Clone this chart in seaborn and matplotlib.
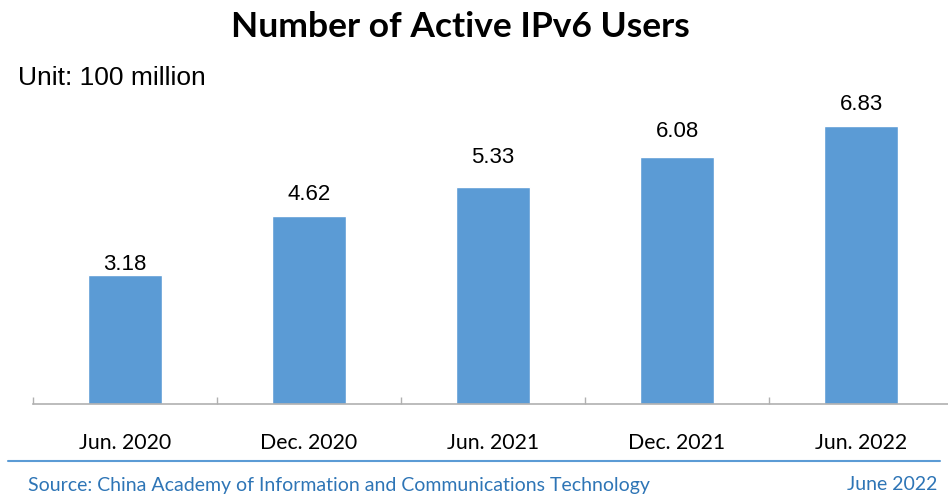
import matplotlib
matplotlib.use("Agg")
import matplotlib.pyplot as plt
from matplotlib.lines import Line2D
import pandas as pd
import seaborn as sns

periods = ["Jun. 2020", "Dec. 2020", "Jun. 2021", "Dec. 2021", "Jun. 2022"]
users = [3.18, 4.62, 5.33, 6.08, 6.83]

title = "Number of Active IPv6 Users"
unit_text = "Unit: 100 million"
source_text = "Source: China Academy of Information and Communications Technology"
date_text = "June 2022"

bar_color = "#5B9BD5"
source_color = "#2E75B6"
# gap in pixels between bar top and label baseline (labels were hand placed)
label_gap = [5, 16, 24, 20, 16]

sns.set_theme(style="white")
plt.rcParams["font.family"] = ["Liberation Sans", "DejaVu Sans"]
plt.rcParams["text.color"] = "black"

df = pd.DataFrame({"period": periods, "users": users})

W, H = 948, 497
fig = plt.figure(figsize=(W / 100, H / 100), dpi=100)
# axes in pixel units: baseline y=404, left x=33, category width 184
ax = fig.add_axes([33 / W, (H - 404) / H, 920 / W, (404 - 90) / H])

sns.barplot(data=df, x="period", y="users", color=bar_color, saturation=1,
            width=0.4, ax=ax)

ax.set_xlim(-0.5, 4.5)
ax.set_ylim(0, (404 - 90) / 40.65)
ax.set_xlabel("")
ax.set_ylabel("")
ax.set_yticks([])

for sp in ["top", "right", "left"]:
    ax.spines[sp].set_visible(False)
ax.spines["bottom"].set_color("#b0b0b0")
ax.spines["bottom"].set_linewidth(1.2)

ax.set_xticks(range(len(periods)))
ax.set_xticklabels(periods, family=["Lato", "DejaVu Sans"], fontsize=15.3)
ax.tick_params(axis="x", which="major", length=0, pad=21, colors="black")
ax.set_xticks([i - 0.5 for i in range(len(periods) + 1)], minor=True)
ax.tick_params(axis="x", which="minor", direction="in", length=5,
               width=1, color="#b0b0b0", bottom=True)

for i, v in enumerate(users):
    ax.annotate(f"{v:.2f}", (i, v), xytext=(0, label_gap[i] * 0.72),
                textcoords="offset points", ha="center", va="baseline",
                fontsize=16, color="black")

fig.text(460 / W, 1 - 27 / H, title, ha="center", va="center",
         fontsize=25.5, fontweight="bold", color="black",
         family=["Lato", "DejaVu Sans"])
fig.text(18 / W, 1 - 78 / H, unit_text, ha="left", va="center",
         fontsize=19, color="black")

fig.add_artist(Line2D([8 / W, 940 / W], [1 - 461 / H, 1 - 461 / H],
                      color=bar_color, linewidth=1.5, transform=fig.transFigure))
fig.text(28 / W, 1 - 485 / H, source_text, ha="left", va="center",
         fontsize=14, color=source_color, family=["Lato", "DejaVu Sans"])
fig.text(937 / W, 1 - 485 / H, date_text, ha="right", va="center",
         fontsize=14, color=source_color, family=["Lato", "DejaVu Sans"])

fig.savefig("out.png", dpi=100)
